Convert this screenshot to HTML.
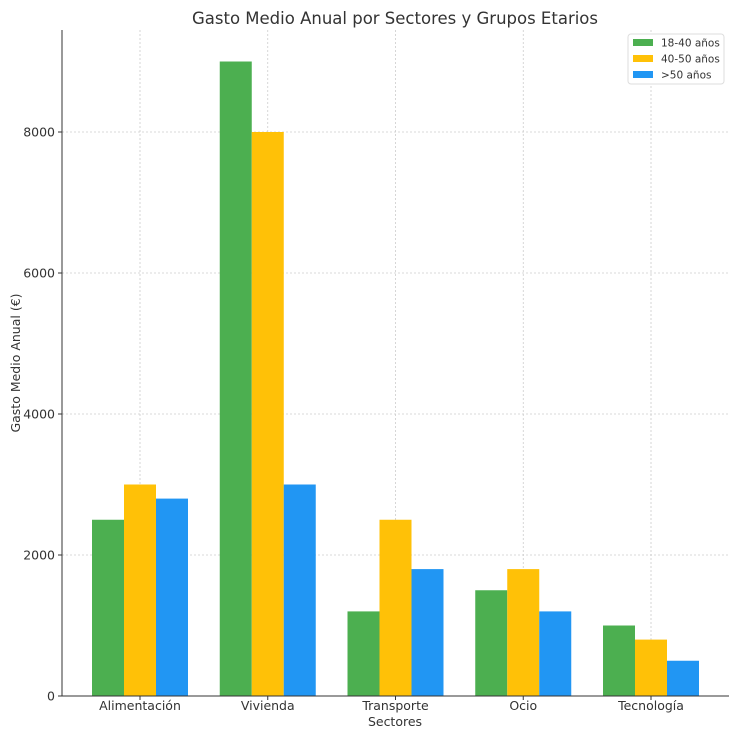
<!DOCTYPE html>
<html><head><meta charset="utf-8"><style>
body{margin:0;background:#fff;font-family:"Liberation Sans","DejaVu Sans",sans-serif}
</style></head><body>
<svg id="c" width="740" height="740" xmlns="http://www.w3.org/2000/svg" font-family="'DejaVu Sans','Liberation Sans',sans-serif"></svg>
<script>
const categories=["Alimentación","Vivienda","Transporte","Ocio","Tecnología"];
const series1840=[2500,9000,1200,1500,1000];
const series4050=[3000,8000,2500,1800,800];
const series50=[2800,3000,1800,1200,500];
const seriesNames=["18-40 años","40-50 años",">50 años"];
const seriesColors=["#4caf50","#ffc107","#2196f3"];
const yTicks=[0,2000,4000,6000,8000];
const svg=document.getElementById('c');
const NS='http://www.w3.org/2000/svg';
const L=62,R=729,T=30,B=696;
const y=v=>B-v*(B-132)/8000;
const x=i=>140+i*127.75;
const bw=32;
function mk(t,a,p){const e=document.createElementNS(NS,t);for(const k in a)e.setAttribute(k,a[k]);(p||svg).appendChild(e);return e;}
// grid
yTicks.forEach(v=>{const g=mk('line',{x1:L,x2:R,y1:y(v),y2:y(v),stroke:'#ccc','stroke-dasharray':'2,2','stroke-width':0.8});

});
categories.forEach((c,i)=>{const g=mk('line',{x1:x(i),x2:x(i),y1:T,y2:B,stroke:'#ccc','stroke-dasharray':'2,2','stroke-width':0.8});

});
// bars
[series1840,series4050,series50].forEach((s,si)=>{s.forEach((v,i)=>{
const r=mk('rect',{x:x(i)+(si-1)*bw-bw/2,y:y(v),width:bw,height:B-y(v),fill:seriesColors[si]});

});});
// axes
const ax=mk('path',{d:`M${L},${T}V${B}H${R}`,stroke:'#333',fill:'none','stroke-width':1});


yTicks.forEach(v=>{mk('line',{x1:L-4,x2:L,y1:y(v),y2:y(v),stroke:'#333'});
const t=mk('text',{x:L-7,y:y(v)+4.5,'text-anchor':'end','font-size':12.5,fill:'#333'});t.textContent=v;

});
categories.forEach((c,i)=>{mk('line',{x1:x(i),x2:x(i),y1:B,y2:B+4,stroke:'#333'});
const t=mk('text',{x:x(i),y:B+14,'text-anchor':'middle','font-size':12.5,fill:'#333'});t.textContent=c;

});
let t=mk('text',{x:395,y:726,'text-anchor':'middle','font-size':12.5,fill:'#333'});t.textContent='Sectores';


t=mk('text',{x:20,y:363,'text-anchor':'middle','font-size':12.5,fill:'#333',transform:'rotate(-90 20 363)'});t.textContent='Gasto Medio Anual (€)';


t=mk('text',{x:395,y:24,'text-anchor':'middle','font-size':16.5,fill:'#333'});t.textContent='Gasto Medio Anual por Sectores y Grupos Etarios';


// legend
const lg=mk('g',{});


mk('rect',{x:628,y:34,width:96,height:50,rx:3,fill:'#fff',stroke:'#ddd'},lg);
seriesNames.forEach((n,i)=>{
const e=mk('g',{},lg);


mk('rect',{x:633,y:39+i*16,width:20,height:7,fill:seriesColors[i]},e);
const tx=mk('text',{x:661,y:46.5+i*16,'font-size':10.5,fill:'#333'},e);tx.textContent=n;});
</script>
</body></html>
